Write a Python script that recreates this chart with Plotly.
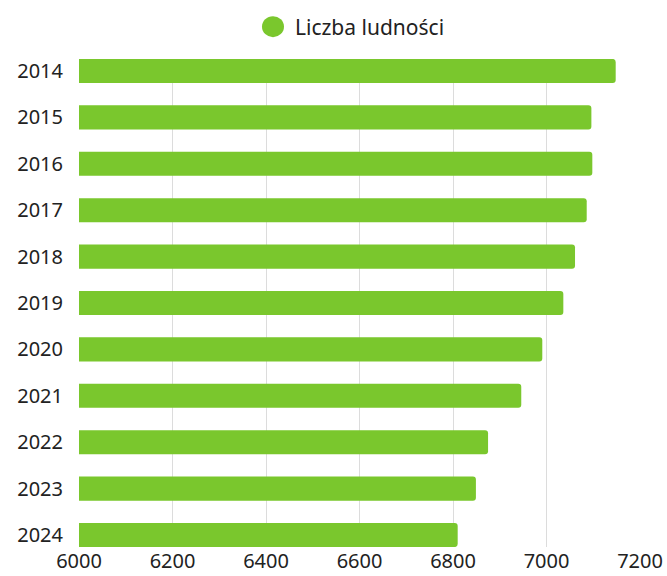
import plotly.graph_objects as go

years = ["2014", "2015", "2016", "2017", "2018", "2019", "2020", "2021", "2022", "2023", "2024"]
population = [7148, 7096, 7098, 7086, 7061, 7036, 6991, 6946, 6875, 6849, 6810]
series_name = "Liczba ludności"
x_ticks = [6000, 6200, 6400, 6600, 6800, 7000, 7200]

green = "rgb(122,199,45)"
font_family = "Noto Sans, Open Sans, sans-serif"

fig = go.Figure()
fig.add_trace(go.Bar(
    y=years, x=population, orientation="h",
    marker=dict(color=green, cornerradius=3, line=dict(width=0)),
    showlegend=False, name=series_name,
    hoverinfo="x+y",
))

# legend-like marker and label (circle drawn at fixed pixel size)
leg_x, leg_y = 0.3458, 1.0662
fig.add_shape(type="circle", xref="paper", yref="paper",
              xsizemode="pixel", ysizemode="pixel",
              xanchor=leg_x, yanchor=leg_y,
              x0=-11, x1=11, y0=-10.5, y1=10.5,
              fillcolor=green, line=dict(width=0))
fig.add_annotation(text=series_name, xref="paper", yref="paper",
                   x=0.3815, y=leg_y, xanchor="left", yanchor="middle",
                   showarrow=False, font=dict(size=21, color="#222222"))

fig.update_layout(
    width=667, height=576,
    margin=dict(l=79, r=27, t=59, b=29, autoexpand=False),
    paper_bgcolor="white", plot_bgcolor="white",
    font=dict(family=font_family, size=20, color="#222222"),
    bargap=0.48,
    showlegend=False,
    xaxis=dict(range=[6000, 7200], tickvals=x_ticks, ticktext=[str(v) for v in x_ticks],
               showgrid=True, gridcolor="#dcdcdc", gridwidth=1, zeroline=False,
               showline=False, ticks="", tickfont=dict(size=20), automargin=False,
               ticklabelstandoff=0),
    yaxis=dict(type="category", categoryorder="array", categoryarray=years,
               range=[10.259, -0.259], showgrid=False, zeroline=False,
               showline=False, ticks="", ticklabelstandoff=15, tickfont=dict(size=20),
               automargin=False),
)

fig.write_html("out.html", config={"displayModeBar": False},
               post_script="document.body.style.margin='0';document.body.style.overflow='hidden';")
